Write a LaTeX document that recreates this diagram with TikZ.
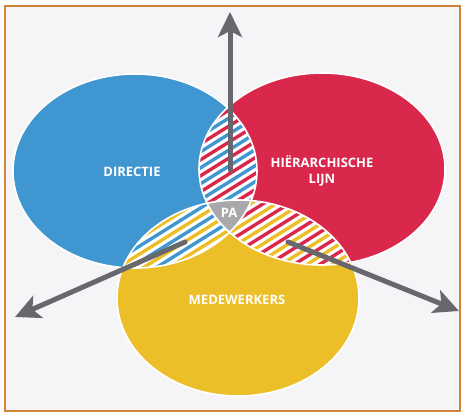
\documentclass[tikz,border=0pt]{standalone}
\usepackage{fontspec}
\setmainfont{Open Sans}
\usetikzlibrary{arrows.meta}
\definecolor{cblue}{RGB}{64,150,208}
\definecolor{cred}{RGB}{217,40,75}
\definecolor{cyel}{RGB}{236,190,40}
\definecolor{cgray}{RGB}{169,169,172}
\definecolor{carrow}{RGB}{105,103,110}
\definecolor{cframe}{RGB}{208,130,55}
\definecolor{cbg}{RGB}{245,245,247}
\newcommand\lensstripes[4]{%
  \foreach \i in {-30,-28,...,30}{
    \draw[#3,line width=3.4pt] ({#1-160},{#2+8*\i+100}) -- ({#1+160},{#2+8*\i-100});
  }
  \foreach \i in {-29,-27,...,29}{
    \draw[#4,line width=3.4pt] ({#1-160},{#2+8*\i+100}) -- ({#1+160},{#2+8*\i-100});
  }
}
\begin{document}
\begin{tikzpicture}[x=1pt,y=-1pt,
  lbl/.style={text=white,font=\bfseries\fontsize{13}{15.5}\selectfont,align=center,inner sep=0pt},
  arr/.style={draw=carrow,line width=5pt,line cap=round,-{Stealth[length=25pt,width=24pt,inset=6pt,fill=carrow]}}]
\def\B{(135,171) ellipse [x radius=122pt, y radius=97pt]}
\def\R{(322,169) ellipse [x radius=123pt, y radius=96pt]}
\def\Y{(238,298) ellipse [x radius=121pt, y radius=98pt]}
\useasboundingbox (0,0) rectangle (461,413);
\fill[white] (0,0) rectangle (461,413);
\fill[cbg] (5,6) rectangle (460,411);
\draw[cframe,line width=2pt] (5,6) rectangle (460,411);
% solid circles
\fill[cblue] \B;
\fill[cred] \R;
\fill[cyel] \Y;
% blue-red lens
\begin{scope}
  \clip \B; \clip \R;
  \fill[white] \B;
  \lensstripes{229}{150}{cblue}{cred}
\end{scope}
% blue-yellow lens
\begin{scope}
  \clip \B; \clip \Y;
  \fill[white] \B;
  \lensstripes{170}{235}{cyel}{cblue}
\end{scope}
% red-yellow lens
\begin{scope}
  \clip \R; \clip \Y;
  \fill[white] \R;
  \lensstripes{290}{235}{cred}{cyel}
\end{scope}
% triple region
\begin{scope}
  \clip \B; \clip \R;
  \fill[cgray] \Y;
\end{scope}
% white outlines
\draw[white,line width=1.6pt] \B;
\draw[white,line width=1.6pt] \R;
\draw[white,line width=1.6pt] \Y;
% arrows
\coordinate (upS) at (230,170);
\coordinate (upT) at (230,12);
\coordinate (lS) at (185,242);
\coordinate (lT) at (15,317);
\coordinate (rS) at (288,242);
\coordinate (rT) at (459,311);
\draw[arr] (upS) -- (upT);
\draw[arr] (lS) -- (lT);
\draw[arr] (rS) -- (rT);
% labels
\node[lbl] (dir) at (132,172) {DIRECTIE};
\node[lbl] (hier) at (322,171) {HIËRARCHISCHE\\LIJN};
\node[lbl] (med) at (237,300) {MEDEWERKERS};
\node[lbl] (pa) at (229,213) {PA};
\end{tikzpicture}
\end{document}
